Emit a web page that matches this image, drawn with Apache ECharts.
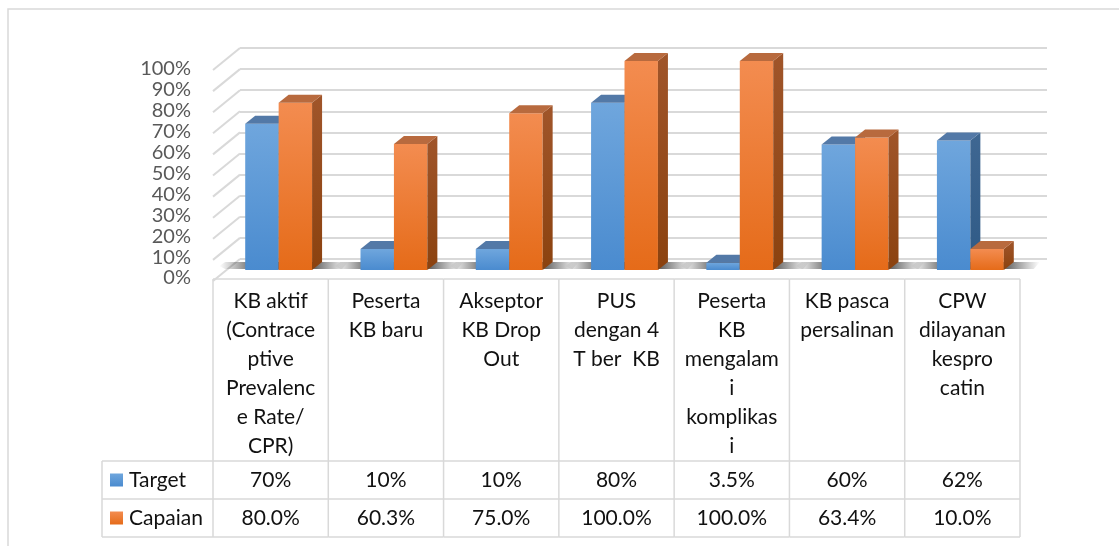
<!DOCTYPE html>
<html>
<head>
<meta charset="utf-8">
<script src="https://cdn.jsdelivr.net/npm/echarts@6/dist/echarts.min.js"></script>
<style>
html,body{margin:0;padding:0;background:#fff;}
#chart{width:1119px;height:546px;}
</style>
</head>
<body>
<div id="chart"></div>
<script>
// ---- data ----
var categories = [
  'KB aktif\n(Contrace\nptive\nPrevalenc\ne Rate/\nCPR)',
  'Peserta\nKB baru',
  'Akseptor\nKB Drop\nOut',
  'PUS\ndengan 4\nT ber  KB',
  'Peserta\nKB\nmengalam\ni\nkomplikas\ni',
  'KB pasca\npersalinan',
  'CPW\ndilayanan\nkespro\ncatin'
];
var seriesNames = ['Target', 'Capaian'];
var targetValues = [70, 10, 10, 80, 3.5, 60, 62];
var capaianValues = [80.0, 60.3, 75.0, 100.0, 100.0, 63.4, 10.0];
var yTicks = [0, 10, 20, 30, 40, 50, 60, 70, 80, 90, 100];

// ---- style ----
var FONT = 'Lato';
var TABLE_FONT = '21px Lato';
var GRID_COLOR = '#d9d9d9';
var DEPTH_DX = 10, DEPTH_DY = -8;     // bar depth
var PLANE_DX = 8, PLANE_DY = -8;      // bar plane offset from front plane
var WALL_DX = 27, WALL_DY = -22;      // full floor depth

function fmtTarget(v) { return (v % 1 === 0 ? String(v) : v.toFixed(1)) + '%'; }
function fmtCapaian(v) { return v.toFixed(1) + '%'; }

var palettes = [
  { front: ['#6fa6dd', '#4a8bcf'], top: '#5379a7', side: ['#3f6792', '#2f5a86'] },
  { front: ['#f38c50', '#e56b19'], top: '#b86a3e', side: ['#a0552a', '#8b420f'] }
];

function lin(c0, c1, horiz) {
  return new echarts.graphic.LinearGradient(0, 0, horiz ? 1 : 0, horiz ? 0 : 1, [
    { offset: 0, color: c0 }, { offset: 1, color: c1 }
  ]);
}

function barRender(si) {
  return function (params, api) {
    var i = api.value(0), v = api.value(1);
    var base = api.coord([i, 0]);
    var tp = api.coord([i, v]);
    var colW = api.size([1, 0])[0];
    var bw = colW * 0.29;
    var gc = base[0] + PLANE_DX;
    var x0 = si === 0 ? gc - bw : gc;
    var x1 = x0 + bw;
    var yb = base[1] + PLANE_DY, yt = tp[1] + PLANE_DY;
    var p = palettes[si];
    return {
      type: 'group',
      children: [
        { type: 'rect', shape: { x: x0, y: yt, width: bw, height: yb - yt },
          style: { fill: lin(p.front[0], p.front[1]) } },
        { type: 'polygon', shape: { points: [[x1, yt], [x1 + DEPTH_DX, yt + DEPTH_DY], [x1 + DEPTH_DX, yb + DEPTH_DY], [x1, yb]] },
          style: { fill: lin(p.side[0], p.side[1]) } },
        { type: 'polygon', shape: { points: [[x0, yt], [x0 + DEPTH_DX, yt + DEPTH_DY], [x1 + DEPTH_DX, yt + DEPTH_DY], [x1, yt]] },
          style: { fill: p.top } }
      ]
    };
  };
}

function shadowRender(params, api) {
  var i = api.value(0);
  var base = api.coord([i, 0]);
  var colW = api.size([1, 0])[0];
  var bw = colW * 0.29;
  var gc = base[0] + PLANE_DX;
  var yb = base[1] + PLANE_DY;
  var xL = gc - bw - 26, xR = gc + bw + 36;
  return {
    type: 'polygon',
    shape: { points: [[xL, yb - 4], [xL + 6, yb - 8], [xR, yb - 8], [xR - 6, yb - 1], [xL + 6, yb - 1]] },
    style: {
      fill: new echarts.graphic.LinearGradient(0, 0, 1, 0, [
        { offset: 0, color: 'rgba(70,70,70,0)' },
        { offset: 0.25, color: 'rgba(45,45,45,0.7)' },
        { offset: 0.75, color: 'rgba(45,45,45,0.7)' },
        { offset: 1, color: 'rgba(70,70,70,0)' }
      ])
    }
  };
}

// table rows (offsets from table top)
var HEADER_H = 182, ROW_H = 38, LINE_H = 29;
var LEGEND_X = 102;

function tableRender(params, api) {
  var i = api.value(0);
  var base = api.coord([i, 0]);
  var colW = api.size([1, 0])[0];
  var xl = base[0] - colW / 2, xr = base[0] + colW / 2;
  var top = base[1] + 1;
  var r1 = top + HEADER_H, r2 = r1 + ROW_H, r3 = r2 + ROW_H;
  var ls = { stroke: GRID_COLOR, lineWidth: 1.5 };
  var children = [
    { type: 'line', shape: { x1: xl, y1: top, x2: xr, y2: top }, style: ls },
    { type: 'line', shape: { x1: xr, y1: top, x2: xr, y2: r3 }, style: ls },
    { type: 'line', shape: { x1: xl, y1: r1, x2: xr, y2: r1 }, style: ls },
    { type: 'line', shape: { x1: xl, y1: r2, x2: xr, y2: r2 }, style: ls },
    { type: 'line', shape: { x1: xl, y1: r3, x2: xr, y2: r3 }, style: ls },
    { type: 'text', style: { text: categories[i], x: base[0], y: top + 8, align: 'center', verticalAlign: 'top',
        font: TABLE_FONT, lineHeight: LINE_H, fill: '#111111' } },
    { type: 'text', style: { text: fmtTarget(targetValues[i]), x: base[0], y: (r1 + r2) / 2, align: 'center', verticalAlign: 'middle',
        font: TABLE_FONT, fill: '#111111' } },
    { type: 'text', style: { text: fmtCapaian(capaianValues[i]), x: base[0], y: (r2 + r3) / 2, align: 'center', verticalAlign: 'middle',
        font: TABLE_FONT, fill: '#111111' } }
  ];
  if (i === 0) {
    children.push(
      { type: 'line', shape: { x1: xl, y1: top, x2: xl, y2: r3 }, style: ls },
      { type: 'line', shape: { x1: LEGEND_X, y1: r1, x2: xl, y2: r1 }, style: ls },
      { type: 'line', shape: { x1: LEGEND_X, y1: r2, x2: xl, y2: r2 }, style: ls },
      { type: 'line', shape: { x1: LEGEND_X, y1: r3, x2: xl, y2: r3 }, style: ls },
      { type: 'line', shape: { x1: LEGEND_X, y1: r1, x2: LEGEND_X, y2: r3 }, style: ls }
    );
    [0, 1].forEach(function (k) {
      var cy = k === 0 ? (r1 + r2) / 2 : (r2 + r3) / 2;
      children.push(
        { type: 'rect', shape: { x: LEGEND_X + 8, y: cy - 6.5, width: 13, height: 13 },
          style: { fill: lin(palettes[k].front[0], palettes[k].front[1]) } },
        { type: 'text', style: { text: seriesNames[k], x: LEGEND_X + 27, y: cy, align: 'left', verticalAlign: 'middle',
            font: TABLE_FONT, fill: '#111111' } }
      );
    });
  }
  return { type: 'group', children: children };
}

function diagRender(params, api) {
  var v = api.value(0);
  var p = api.coord([0, v]);
  return { type: 'line', shape: { x1: p[0], y1: p[1], x2: p[0] - WALL_DX, y2: p[1] - WALL_DY },
    style: { stroke: GRID_COLOR, lineWidth: 2 } };
}

var chart = echarts.init(document.getElementById('chart'), null, { renderer: 'canvas' });
var idx = categories.map(function (c, i) { return i; });

chart.setOption({
  animation: false,
  backgroundColor: '#ffffff',
  textStyle: { fontFamily: FONT },
  graphic: [{
    type: 'rect', z: -10, silent: true,
    shape: { x: 8, y: 9, width: 1300, height: 700 },
    style: { fill: 'none', stroke: GRID_COLOR, lineWidth: 1.5 }
  }],
  grid: [
    { left: 213, right: 99, top: 69, bottom: 268 },
    { left: 213 + WALL_DX, right: 99 - WALL_DX, top: 69 + WALL_DY + 1, bottom: 268 - WALL_DY - 3 }
  ],
  xAxis: [
    { type: 'category', gridIndex: 0, data: categories, boundaryGap: true,
      axisLine: { show: false }, axisTick: { show: false }, axisLabel: { show: false } },
    { type: 'value', gridIndex: 1, min: 0, max: 1, show: false }
  ],
  yAxis: [
    { type: 'value', gridIndex: 0, min: 0, max: 100, interval: 10,
      axisLine: { show: false }, axisTick: { show: false }, splitLine: { show: false },
      axisLabel: { formatter: '{value}%', color: '#595959', fontSize: 20, fontFamily: FONT, margin: 22 } },
    { type: 'value', gridIndex: 1, min: 0, max: 100, interval: 10,
      axisLine: { show: false }, axisTick: { show: false }, axisLabel: { show: false },
      splitLine: { show: true, lineStyle: { color: GRID_COLOR, width: 2 } } }
  ],
  series: [
    { type: 'custom', name: 'walls', xAxisIndex: 1, yAxisIndex: 1, renderItem: diagRender,
      data: yTicks.map(function (t) { return [t]; }), encode: { x: -1, y: 0 }, silent: true, z: 1 },
    { type: 'custom', name: 'shadow', xAxisIndex: 0, yAxisIndex: 0, renderItem: shadowRender,
      data: idx.map(function (i) { return [i, 0]; }), silent: true, z: 2 },
    { type: 'custom', name: seriesNames[0], xAxisIndex: 0, yAxisIndex: 0, renderItem: barRender(0),
      data: targetValues.map(function (v, i) { return [i, v]; }), z: 3 },
    { type: 'custom', name: seriesNames[1], xAxisIndex: 0, yAxisIndex: 0, renderItem: barRender(1),
      data: capaianValues.map(function (v, i) { return [i, v]; }), z: 4 },
    { type: 'custom', name: 'table', xAxisIndex: 0, yAxisIndex: 0, renderItem: tableRender,
      data: idx.map(function (i) { return [i, 0]; }), silent: true, z: 5, clip: false }
  ]
});
</script>
</body>
</html>
